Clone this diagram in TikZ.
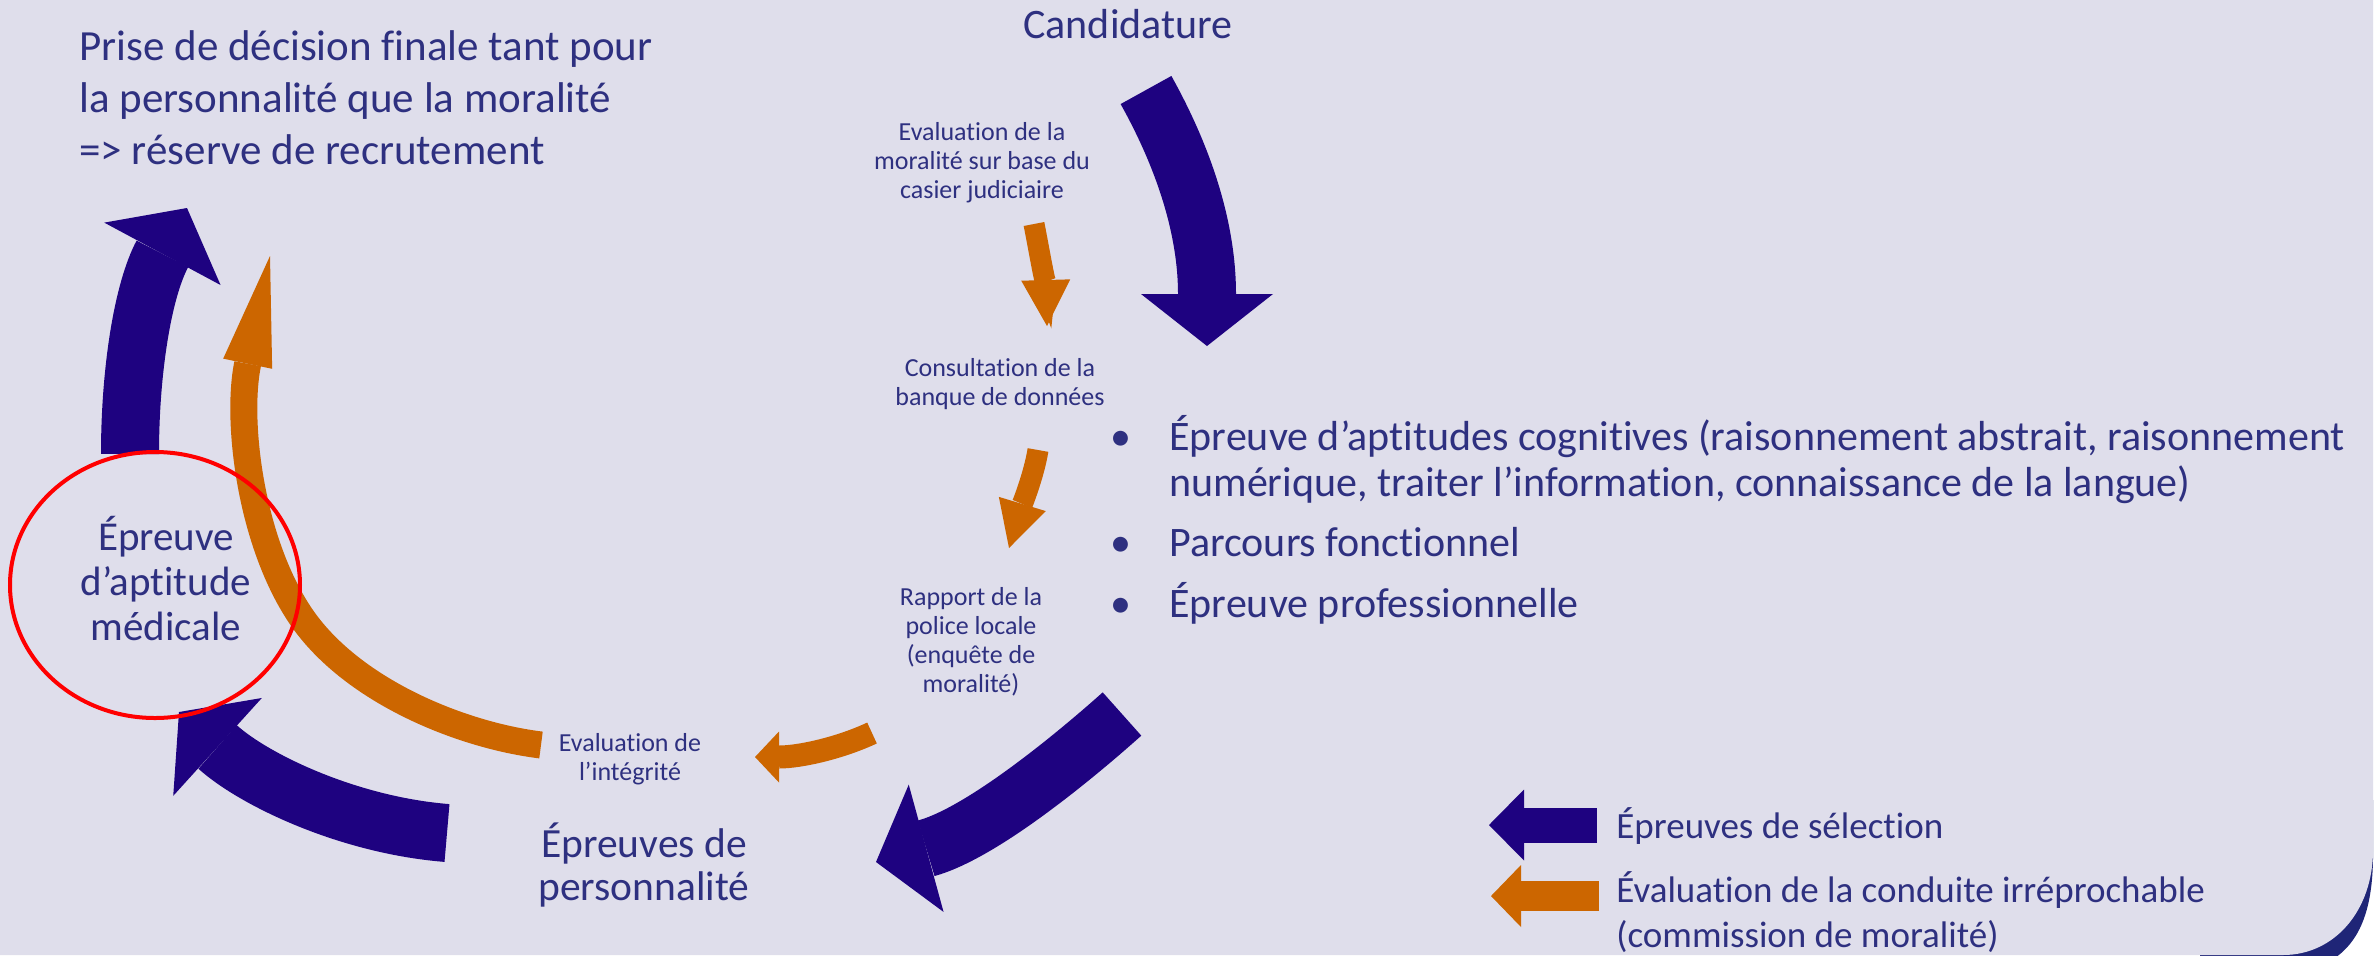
\documentclass[tikz,border=0pt]{standalone}
\usepackage{fontspec}
\setmainfont{Carlito}[Ligatures=NoCommon]
\usetikzlibrary{arrows.meta}
\definecolor{bgpanel}{RGB}{223,222,235}
\definecolor{txtblue}{RGB}{46,48,128}
\definecolor{selblue}{RGB}{30,2,128}
\definecolor{moralorange}{RGB}{204,102,0}
\definecolor{cornernavy}{RGB}{31,37,119}

\begin{document}
\begin{tikzpicture}[x=0.5pt,y=-0.5pt,
    selection/.style={selblue,line width=29pt,-{Triangle[width=66pt,length=26pt,line width=0pt]}},
    morality/.style={moralorange,line width=10.5pt,-{Triangle[width=24.5pt,length=23pt,line width=0pt]}},
    label/.style={txtblue,inner sep=0pt,anchor=base,align=center},
    smalllabel/.style={label,font=\fontsize{13}{14.5}\selectfont}]
        \useasboundingbox (0,0) rectangle (2379,955);
        \fill[white] (0,0) rectangle (2379,955);

        % Slide panel with dark corner
        \fill[cornernavy] (2200,800) -- (2373,800) -- (2373,850) .. controls (2374,935) and (2345,965) .. (2290,975) -- (2200,975) -- cycle;
        \fill[bgpanel] (0,0) -- (2373,0) -- (2373,850) .. controls (2373,910) and (2335,955) .. (2283,955) -- (0,955) -- cycle;

        \coordinate (b1s) at (1146,90);  % after candidature
        \coordinate (b1e) at (1207,346);
        \coordinate (b2s) at (1122,714); % after the tests
        \coordinate (b2e) at (876,862);
        \coordinate (b3s) at (447,833);  % after personality
        \coordinate (b3e) at (179,712);
        \coordinate (b4s) at (130,454);  % after medical
        \coordinate (b4e) at (187,208);

        % Selection tests
        \draw[selection] (b1s) .. controls (1185,160) and (1207,230) .. (b1e);
        \draw[selection] (b2s) .. controls (1075,756) and (982,833) .. (b2e);
        \draw[selection] (b3s) .. controls (347,825) and (253,779) .. (b3e);
        \draw[selection] (b4s) .. controls (130,370) and (143,290) .. (b4e);

        \coordinate (o1s) at (1034,224);
        \coordinate (o1e) at (1047,326);
        \coordinate (o2s) at (1038,450);
        \coordinate (o2e) at (1009,548);
        \coordinate (o3s) at (872,733);
        \coordinate (o3e) at (755,757);
        \coordinate (o4s) at (541,745);
        \coordinate (o4e) at (270,256);

        % Morality checks
        \draw[morality] (o1s) .. controls (1040,255) and (1046,290) .. (o1e);
        \draw[morality] (o2s) .. controls (1034,475) and (1022,505) .. (o2e);
        \draw[morality,line width=11.5pt,-{Triangle[width=25.5pt,length=12pt,line width=0pt]}] (o3s) .. controls (840,748) and (800,757) .. (o3e);
        \draw[morality,line width=13.5pt,-{Triangle[width=25pt,length=55pt,line width=0pt]}] (o4s) .. controls (460,735) and (350,690) .. (300,615) .. controls (250,540) and (236,420) .. (o4e);

        \draw[red,line width=2pt] (155,585) ellipse [x radius=145, y radius=133];

        % Labels (multi-line nodes sit on their last baseline)
        \node[label,font=\fontsize{21}{25}\selectfont] (cand) at (1128,38) {Candidature};
        \node[label,anchor=base west,align=left,font=\fontsize{21.5}{26}\selectfont] (decision) at (79,164)
            {Prise de décision finale tant pour\\la personnalité que la moralité\\=> réserve de recrutement};
        \node[smalllabel] (casier) at (982,198) {Evaluation de la\\moralité sur base du\\casier judiciaire};
        \node[smalllabel] (banque) at (1000,405) {Consultation de la\\banque de données};
        \node[smalllabel] (police) at (971,692) {Rapport de la\\police locale\\(enquête de\\moralité)};
        \node[smalllabel] (integrite) at (630,780) {Evaluation de\\l’intégrité};
        \node[label,font=\fontsize{20.5}{22.5}\selectfont] (medical) at (166,640) {Épreuve\\d’aptitude\\médicale};
        \node[label,font=\fontsize{20.75}{21.5}\selectfont] (perso) at (644,900) {Épreuves de\\personnalité};
        \node[label,anchor=base west,align=left,font=\fontsize{21}{23}\selectfont] (tests) at (1110,617)
            {\makebox[29.5pt][l]{•}Épreuve d’aptitudes cognitives (raisonnement abstrait, raisonnement\\
             \hspace*{29.5pt}numérique, traiter l’information, connaissance de la langue)\\[7pt]
             \makebox[29.5pt][l]{•}Parcours fonctionnel\\[7.5pt]
             \makebox[29.5pt][l]{•}Épreuve professionnelle};

        % Legend
        \coordinate (lg1s) at (1597,825);
        \coordinate (lg1e) at (1489,825);
        \coordinate (lg2s) at (1599,896);
        \coordinate (lg2e) at (1491,896);
        \draw[selblue,line width=17.5pt,-{Triangle[width=35.5pt,length=17.5pt,line width=0pt]}] (lg1s) -- (lg1e);
        \draw[moralorange,line width=15pt,-{Triangle[width=31pt,length=15pt,line width=0pt]}] (lg2s) -- (lg2e);
        \node[label,anchor=base west,font=\fontsize{18.5}{22.5}\selectfont] (lgsel) at (1616,838) {Épreuves de sélection};
        \node[label,anchor=base west,align=left,font=\fontsize{18.5}{22.5}\selectfont] (lgmor) at (1616,947)
            {Évaluation de la conduite irréprochable\\(commission de moralité)};
    \end{tikzpicture}
\end{document}
